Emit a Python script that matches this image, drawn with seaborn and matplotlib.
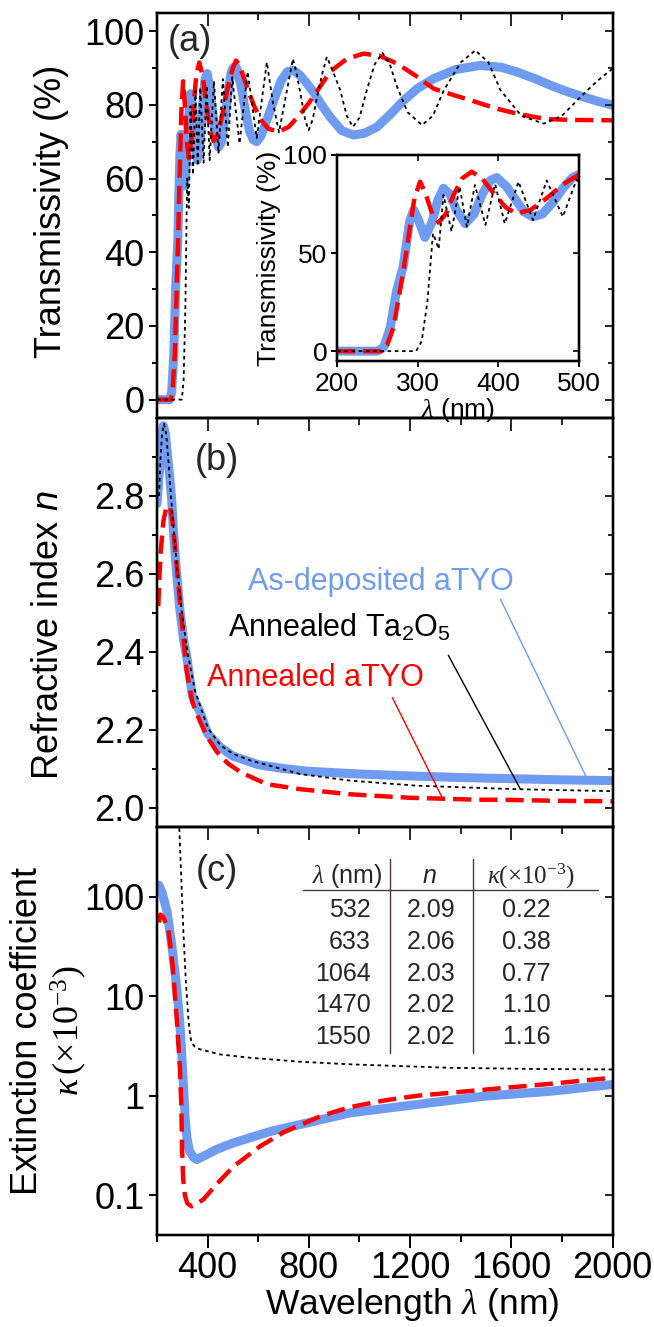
import matplotlib
matplotlib.use("Agg")
import matplotlib.pyplot as plt
import seaborn as sns
from matplotlib.ticker import MultipleLocator, FixedLocator, NullLocator, FuncFormatter

sns.set_theme(style="ticks")
plt.rcParams["font.family"] = ["Liberation Sans", "DejaVu Sans"]
plt.rcParams["mathtext.fontset"] = "custom"
plt.rcParams["mathtext.rm"] = "Liberation Serif"
plt.rcParams["mathtext.it"] = "Liberation Serif:italic"
plt.rcParams["mathtext.sf"] = "Liberation Sans:italic"
plt.rcParams["mathtext.bf"] = "Liberation Sans"

# ---------------- data: (a) transmissivity ----------------
wl_T_asdep = [200, 250, 258, 266, 274, 282, 290, 295, 300, 309, 318, 325, 332, 340, 348, 359, 370, 380,
              390, 398, 410, 420, 432, 443, 455, 468, 480, 492, 500, 510, 520, 535, 550, 565, 580, 594,
              610, 630, 660, 690, 715, 739, 765, 790, 818, 850, 884, 930, 977, 1020, 1069, 1120, 1175,
              1230, 1293, 1380, 1478, 1560, 1623, 1690, 1755, 1820, 1887, 1950, 2000]
T_asdep = [0, 0, 2, 12, 31, 43, 66, 72, 68, 58, 66, 77, 83, 80, 72, 65, 70, 80,
           87, 88.5, 84, 78, 71, 68.5, 70, 76, 83, 88.5, 90, 90.5, 89, 84, 78, 73, 70.5, 70,
           71.5, 75, 81, 86.5, 89, 89.4, 88, 86, 83.5, 80, 76.7, 73, 71.8, 72.3, 74, 77.3, 81.2,
           84.5, 87.1, 89.6, 90.7, 90.2, 88.9, 87.2, 85.3, 83.6, 82.1, 80.8, 79.9]

wl_T_annealed = [200, 255, 262, 270, 276, 282, 290, 296, 303, 310, 318, 326, 335, 345, 355, 367, 380,
                 395, 410, 423, 440, 460, 480, 500, 512, 525, 545, 565, 585, 610, 640, 680, 720, 760,
                 800, 850, 884, 950, 1016, 1080, 1148, 1220, 1293, 1370, 1450, 1540, 1623, 1700,
                 1755, 1850, 2000]
T_annealed = [0, 0, 3, 12, 26, 40, 62, 78, 86.4, 80, 70, 65.5, 70, 80, 88, 91.5, 88,
              80, 73, 70.2, 72, 78, 85, 90, 92, 91, 87, 83, 79.5, 76, 73.5, 72.7, 74, 77,
              80.5, 85.5, 89, 92.5, 93.9, 93.3, 91.2, 88, 84.4, 82.7, 81, 79, 77.6, 76.6,
              76.1, 75.9, 75.8]

wl_T_ta2o5 = [200, 298, 305, 312, 316, 319, 322, 326, 332, 342, 352, 361, 371, 384, 396, 408, 425, 443,
              460, 480, 497, 526, 558, 594, 634, 657, 682, 708, 737, 750, 767, 785, 799, 815, 835,
              855, 871, 890, 924, 950, 974, 1000, 1029, 1060, 1091, 1120, 1148, 1190, 1247, 1290,
              1333, 1400, 1458, 1510, 1557, 1640, 1728, 1800, 1873, 1940, 2000]
T_ta2o5 = [0, 0, 5, 25, 45, 60, 57, 52, 79.6, 61, 83.8, 63.4, 84.7, 64.3, 85.2, 65, 86.4, 66.8,
           87, 68.5, 87.5, 69.5, 89, 71, 91.6, 81, 72.5, 82, 92.5, 89, 83, 76, 73.1, 76, 83,
           89, 93, 90, 84, 77, 74, 76.5, 84, 91, 94.1, 91, 85, 78, 74.5, 77,
           83.9, 91.5, 94.8, 91.5, 84, 77, 74.9, 77, 82.1, 86.5, 89.8]

# ---------------- data: (b) refractive index ----------------
wl_n_asdep = [200, 210, 218, 225, 233, 242, 250, 258, 265, 275, 290, 305, 318, 340, 370, 400, 450,
              500, 600, 700, 800, 1000, 1200, 1400, 1600, 1800, 2000]
n_asdep = [2.78, 2.87, 2.95, 2.98, 2.96, 2.90, 2.85, 2.79, 2.71, 2.62, 2.51, 2.43, 2.385, 2.285, 2.245,
           2.19, 2.155, 2.132, 2.11, 2.10, 2.093, 2.086, 2.081, 2.077, 2.074, 2.071, 2.069]

wl_n_ta2o5 = [208, 214, 220, 228, 236, 245, 255, 265, 280, 300, 320, 350, 400, 450, 500, 568, 766,
              963, 1227, 1623, 2000]
n_ta2o5 = [2.80, 2.90, 2.96, 2.985, 2.96, 2.89, 2.80, 2.72, 2.61, 2.49, 2.40, 2.30, 2.205, 2.16,
           2.138, 2.121, 2.086, 2.069, 2.056, 2.047, 2.042]

wl_n_annealed = [205, 210, 215, 225, 235, 245, 252, 262, 275, 291, 317, 340, 370, 400, 436, 480, 532,
                 633, 766, 963, 1064, 1200, 1470, 1550, 1800, 2000]
n_annealed = [2.517, 2.60, 2.66, 2.735, 2.765, 2.775, 2.77, 2.73, 2.64, 2.526, 2.352, 2.27, 2.221,
              2.18, 2.143, 2.113, 2.09, 2.06, 2.047, 2.034, 2.03, 2.025, 2.02, 2.02, 2.017, 2.016]

# ---------------- data: (c) extinction coefficient (x1e-3) ----------------
wl_k_asdep = [207, 220, 240, 260, 278, 290, 298, 305, 311, 318, 328, 345, 357, 380, 436, 502, 568,
              650, 766, 963, 1227, 1491, 1755, 2000]
k_asdep = [130, 110, 70, 30, 12, 5.5, 2.5, 1.2, 0.6, 0.38, 0.28, 0.24, 0.229, 0.245, 0.29, 0.337,
           0.38, 0.44, 0.515, 0.674, 0.818, 0.99, 1.11, 1.30]

wl_k_annealed = [207, 213, 225, 245, 262, 278, 290, 296, 299, 303, 310, 320, 337, 355, 383, 436, 502,
                 607, 700, 766, 850, 963, 1100, 1227, 1491, 1755, 2000]
k_annealed = [55, 66, 62, 47, 20, 5.9, 2.0, 0.8, 0.3, 0.15, 0.1, 0.083, 0.0776, 0.082, 0.091, 0.13,
              0.195, 0.311, 0.43, 0.51, 0.63, 0.77, 0.9, 1.0, 1.15, 1.32, 1.52]

wl_k_ta2o5 = [282, 288, 296, 304, 314, 324, 331, 337, 350, 370, 450, 568, 763, 963, 1359, 1700, 2000]
k_ta2o5 = [800, 480, 150, 45, 14, 5.9, 4.0, 3.4, 3.1, 2.93, 2.6, 2.41, 2.2, 2.07, 1.91, 1.86, 1.84]

# ---------------- table ----------------
table_wl = ["532", "633", "1064", "1470", "1550"]
table_n = ["2.09", "2.06", "2.03", "2.02", "2.02"]
table_k = ["0.22", "0.38", "0.77", "1.10", "1.16"]

BLUE = "#6f9cf0"
RED = "#ff0000"

fig = plt.figure(figsize=(6.54, 13.27), dpi=100)
L, W = 0.2401, 0.6965
axa = fig.add_axes([L, 0.6850, W, 0.3054])
axb = fig.add_axes([L, 0.3768, W, 0.3082])
axc = fig.add_axes([L, 0.0693, W, 0.3075])


def draw(ax, x, y, kind):
    if kind == "blue":
        sns.lineplot(x=x, y=y, ax=ax, color=BLUE, linewidth=6.5, estimator=None, sort=False,
                     legend=False, solid_capstyle="round", solid_joinstyle="round", zorder=2)
    elif kind == "red":
        sns.lineplot(x=x, y=y, ax=ax, color=RED, linewidth=3.2, estimator=None, sort=False,
                     legend=False, linestyle=(0, (4.1, 1.8)), dash_capstyle="butt", zorder=3)
    else:
        sns.lineplot(x=x, y=y, ax=ax, color="black", linewidth=1.3, estimator=None, sort=False,
                     legend=False, linestyle=(0, (2, 2)), zorder=4)


def frame(ax, ymaj, ymin, ylim, ylog=False, bottom_labels=False, fs=26, xpad=4,
          xmaj=400, xmin=200, xlim=(200, 2000), xlen=(9.5, 5), ylen=(6, 3.5)):
    ax.set_xlim(*xlim)
    if ylog:
        ax.set_yscale("log")
    ax.set_ylim(*ylim)
    for s in ax.spines.values():
        s.set_linewidth(1.6)
        s.set_color("black")
    ax.xaxis.set_major_locator(MultipleLocator(xmaj))
    ax.xaxis.set_minor_locator(MultipleLocator(xmin) if xmin else NullLocator())
    ax.yaxis.set_major_locator(FixedLocator(ymaj))
    ax.yaxis.set_minor_locator(FixedLocator(ymin) if ymin else NullLocator())
    ax.tick_params(axis="y", which="both", direction="out", left=True, right=False, width=1.4,
                   labelsize=fs, colors="black", pad=3)
    ax.tick_params(axis="y", which="major", length=ylen[0])
    ax.tick_params(axis="y", which="minor", length=ylen[1])
    ax.tick_params(axis="x", which="both", direction="out", top=False, bottom=bottom_labels,
                   labelbottom=bottom_labels, width=1.4, labelsize=fs, colors="black", pad=xpad)
    ax.tick_params(axis="x", which="major", length=xlen[0])
    ax.tick_params(axis="x", which="minor", length=xlen[1])
    # top inward ticks
    tx = ax.twiny()
    tx.set_xlim(*xlim)
    tx.xaxis.set_major_locator(MultipleLocator(xmaj))
    tx.xaxis.set_minor_locator(MultipleLocator(xmin) if xmin else NullLocator())
    tx.tick_params(axis="x", which="both", direction="in", top=True, bottom=False, labeltop=False,
                   width=1.4)
    tx.tick_params(axis="x", which="major", length=xlen[0])
    tx.tick_params(axis="x", which="minor", length=xlen[1])
    # right inward ticks
    ty = ax.twinx()
    if ylog:
        ty.set_yscale("log")
    ty.set_ylim(*ylim)
    ty.yaxis.set_major_locator(FixedLocator(ymaj))
    ty.yaxis.set_minor_locator(FixedLocator(ymin) if ymin else NullLocator())
    ty.tick_params(axis="y", which="both", direction="in", right=True, left=False, labelright=False,
                   width=1.4)
    ty.tick_params(axis="y", which="major", length=ylen[0])
    ty.tick_params(axis="y", which="minor", length=ylen[1])
    for t in (tx, ty):
        for s in t.spines.values():
            s.set_linewidth(1.6)
            s.set_color("black")
        t.grid(False)


# ---- panel (a)
draw(axa, wl_T_asdep, T_asdep, "blue")
draw(axa, wl_T_annealed, T_annealed, "red")
draw(axa, wl_T_ta2o5, T_ta2o5, "black")
frame(axa, [0, 20, 40, 60, 80, 100], [10, 30, 50, 70, 90], (-5, 105))
axa.set_ylabel("Transmissivity (%)", fontsize=26, color="black")
axa.yaxis.set_label_coords(-0.193, 0.51)
axa.set_xlabel("")
axa.text(0.073, 0.928, "(a)", transform=axa.transAxes, fontsize=26, ha="center", va="center")

# inset
axi = fig.add_axes([0.5153, 0.7280, 0.3700, 0.1552])
axi.set_facecolor("white")
draw(axi, wl_T_asdep, T_asdep, "blue")
draw(axi, wl_T_annealed, T_annealed, "red")
draw(axi, wl_T_ta2o5, T_ta2o5, "black")
frame(axi, [0, 50, 100], None, (-5, 100), bottom_labels=True, fs=19, xmaj=100, xmin=None,
      xlim=(200, 500), xlen=(4, 2), ylen=(4, 2))
axi.set_ylabel("Transmissivity (%)", fontsize=19, color="black", labelpad=2)
axi.set_xlabel(r"$\lambda$ (nm)", fontsize=19, color="black", labelpad=0)

# ---- panel (b)
draw(axb, wl_n_asdep, n_asdep, "blue")
draw(axb, wl_n_ta2o5, n_ta2o5, "black")
draw(axb, wl_n_annealed, n_annealed, "red")
frame(axb, [2.0, 2.2, 2.4, 2.6, 2.8], [2.1, 2.3, 2.5, 2.7, 2.9], (1.95, 3.0))
axb.yaxis.set_major_formatter(FuncFormatter(lambda v, p: f"{v:.1f}"))
axb.set_ylabel(r"Refractive index $\mathsf{n}$", fontsize=26, color="black")
axb.yaxis.set_label_coords(-0.200, 0.47)
axb.set_xlabel("")
axb.text(0.132, 0.896, "(b)", transform=axb.transAxes, fontsize=26, ha="center", va="center")

axb.text(561, 2.559, "As-deposited aTYO", color=BLUE, fontsize=22, ha="left", va="baseline")
axb.text(482, 2.438, r"Annealed Ta$_\mathbf{2}$O$_\mathbf{5}$", color="black", fontsize=22,
         ha="left", va="baseline")
axb.text(397, 2.313, "Annealed aTYO", color=RED, fontsize=22, ha="left", va="baseline")
axb.plot([1557, 1901], [2.535, 2.072], color=BLUE, lw=1.0)
axb.plot([1351, 1636], [2.391, 2.047], color="black", lw=1.0)
axb.plot([1130, 1331], [2.282, 2.020], color=RED, lw=1.0)

# ---- panel (c)
draw(axc, wl_k_asdep, k_asdep, "blue")
draw(axc, wl_k_annealed, k_annealed, "red")
draw(axc, wl_k_ta2o5, k_ta2o5, "black")
frame(axc, [0.1, 1, 10, 100], None, (0.04, 500), ylog=True, bottom_labels=True, xpad=2)
axc.yaxis.set_major_formatter(FuncFormatter(lambda v, p: f"{v:g}"))
axc.set_ylabel("Extinction coefficient\n" + r"$\kappa\,(\times10^{-3})$", fontsize=26,
               color="black", linespacing=1.1)
axc.yaxis.set_label_coords(-0.150, 0.5)
axc.set_xlabel(r"Wavelength $\lambda$ (nm)", fontsize=25.5, color="black", labelpad=0)
axc.xaxis.set_label_coords(0.56, -0.124)
axc.text(0.132, 0.89, "(c)", transform=axc.transAxes, fontsize=26, ha="center", va="center")

# table inside (c)
tfs = 18
tr = axc.transAxes
axc.text(0.417, 0.862, r"$\lambda$ (nm)", transform=tr, fontsize=tfs, ha="center", va="baseline")
axc.text(0.598, 0.862, r"$\mathsf{n}$", transform=tr, fontsize=tfs, ha="center", va="baseline")
axc.text(0.821, 0.862, r"$\kappa(\times10^{-3})$", transform=tr, fontsize=tfs, ha="center",
         va="baseline")
row_y = [0.7786, 0.7010, 0.6233, 0.5458, 0.4681]
for yy, a, b, c in zip(row_y, table_wl, table_n, table_k):
    axc.text(0.4696, yy, a, transform=tr, fontsize=tfs, ha="right", va="baseline")
    axc.text(0.602, yy, b, transform=tr, fontsize=tfs, ha="center", va="baseline")
    axc.text(0.811, yy, c, transform=tr, fontsize=tfs, ha="center", va="baseline")
LINEC = "#4a3c3c"
axc.plot([0.321, 0.969], [0.8456, 0.8456], transform=tr, color=LINEC, lw=1.0)
axc.plot([0.512, 0.512], [0.9216, 0.446], transform=tr, color=LINEC, lw=1.0)
axc.plot([0.6945, 0.6945], [0.9216, 0.446], transform=tr, color=LINEC, lw=1.0)

fig.savefig("out.png", dpi=100)
